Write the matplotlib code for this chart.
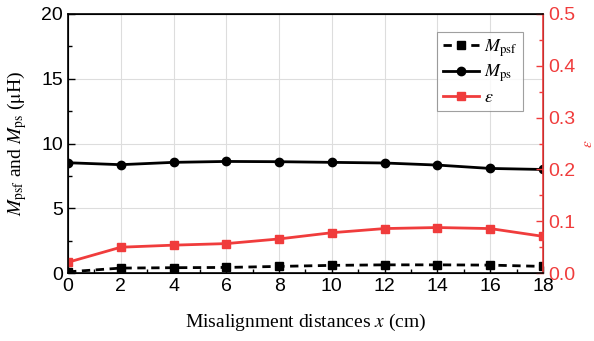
import matplotlib
matplotlib.use('Agg')
import matplotlib.pyplot as plt
from matplotlib.ticker import MultipleLocator

plt.rcParams['mathtext.fontset'] = 'stix'

x = [0, 2, 4, 6, 8, 10, 12, 14, 16, 18]
m_psf = [0.10, 0.39, 0.42, 0.44, 0.52, 0.60, 0.64, 0.64, 0.62, 0.52]
m_ps = [8.52, 8.37, 8.55, 8.62, 8.60, 8.55, 8.50, 8.34, 8.08, 8.00]
eps = [0.021, 0.050, 0.054, 0.057, 0.066, 0.078, 0.086, 0.088, 0.086, 0.071]

red = '#f03c3c'
tick_font = 'Liberation Sans'
label_font = 'Liberation Serif'

fig = plt.figure(figsize=(5.94, 3.41), dpi=100)
ax = fig.add_axes([0.1145, 0.199, 0.7995, 0.76])
ax2 = ax.twinx()

l1, = ax.plot(x, m_psf, '--', color='black', marker='s', ms=6, lw=2, dashes=(3, 2), label=r'$M_{\rm psf}$')
l2, = ax.plot(x, m_ps, '-', color='black', marker='o', ms=6, lw=2, label=r'$M_{\rm ps}$')
l3, = ax2.plot(x, eps, '-', color=red, marker='s', ms=6, lw=2, label=r'$\varepsilon$')

ax.set_xlim(0, 18)
ax.set_ylim(0, 20)
ax2.set_ylim(0, 0.5)

ax.xaxis.set_major_locator(MultipleLocator(2))
ax.xaxis.set_minor_locator(MultipleLocator(1))
ax.yaxis.set_major_locator(MultipleLocator(5))
ax.yaxis.set_minor_locator(MultipleLocator(2.5))
ax2.yaxis.set_major_locator(MultipleLocator(0.1))
ax2.yaxis.set_minor_locator(MultipleLocator(0.05))

ax.grid(True, which='major', color='#dddddd', lw=0.8)
ax.set_axisbelow(True)

ax.tick_params(which='both', direction='in', top=False, right=False, labelsize=14)
ax.tick_params(which='major', length=5, width=1)
ax.tick_params(which='minor', length=3, width=1)
ax2.tick_params(which='both', direction='in', colors=red, labelsize=14)
ax2.tick_params(which='major', length=5, width=1)
ax2.tick_params(which='minor', length=3, width=1)
ax2.yaxis.set_major_formatter(plt.FuncFormatter(lambda v, p: f'{v:.1f}'))

for lab in ax.get_xticklabels() + ax.get_yticklabels() + ax2.get_yticklabels():
    lab.set_family(tick_font)

for s in ['left', 'bottom', 'top']:
    ax2.spines[s].set_linewidth(1.2)
ax2.spines['right'].set_color(red)
ax2.spines['right'].set_linewidth(1.2)

ax.set_xlabel(r'Misalignment distances $x$ (cm)', family=label_font, fontsize=14, labelpad=12)
ax.set_ylabel(r'$M_{\rm psf}$ and $M_{\rm ps}$ ($\mathrm{\mu}$H)', family=label_font, fontsize=14)
ax.yaxis.set_label_coords(-0.083, 0.5)
ax2.set_ylabel(r'$\varepsilon$', color=red, fontsize=11, rotation=90)
ax2.yaxis.set_label_coords(1.078, 0.5)

leg = ax2.legend(handles=[l1, l2, l3], loc='upper right', bbox_to_anchor=(0.958, 0.93),
                 fontsize=13, handlelength=2.0, frameon=True, fancybox=False,
                 edgecolor='#888888', borderpad=0.3, labelspacing=0.2, handletextpad=0.3,
                 borderaxespad=0)
leg.get_frame().set_linewidth(0.8)

fig.savefig('out.png', dpi=100)
